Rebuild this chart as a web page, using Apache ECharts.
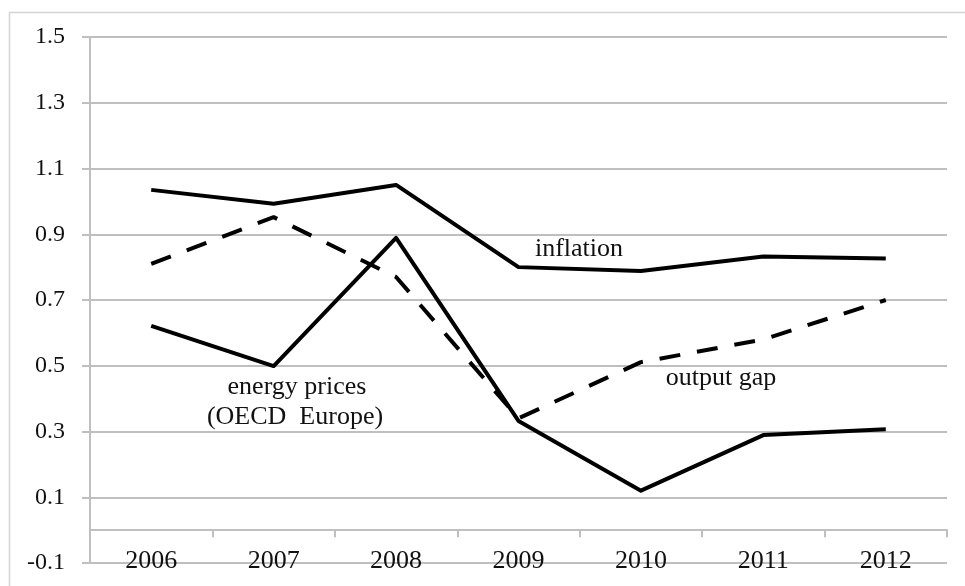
<!DOCTYPE html>
<html>
<head>
<meta charset="utf-8">
<script src="https://cdn.jsdelivr.net/npm/echarts@6/dist/echarts.min.js"></script>
<style>
html,body{margin:0;padding:0;background:#fff;}
#c{width:965px;height:586px;}
</style>
</head>
<body>
<div id="c"></div>
<script>
var years = ['2006','2007','2008','2009','2010','2011','2012'];
var inflation = [1.035, 0.993, 1.050, 0.800, 0.788, 0.832, 0.826];
var outputGap = [0.810, 0.952, 0.770, 0.340, 0.511, 0.580, 0.700];
var energyPrices = [0.621, 0.499, 0.889, 0.332, 0.120, 0.289, 0.307];
var yTicks = {min: -0.1, max: 1.5, interval: 0.2};

var chart = echarts.init(document.getElementById('c'), null, {renderer: 'canvas'});
var serif = '"Liberation Serif", "Times New Roman", serif';
var gridColor = '#bfbfbf';

chart.setOption({
  animation: false,
  backgroundColor: '#ffffff',
  grid: {left: 90, right: 18, top: 37, bottom: 23, containLabel: false, outerBoundsMode: 'none'},
  xAxis: {
    type: 'category',
    data: years,
    boundaryGap: true,
    axisLine: {show: true, onZero: true, lineStyle: {color: gridColor, width: 2}},
    axisTick: {show: true, length: 7, alignWithLabel: false, lineStyle: {color: gridColor, width: 2}},
    axisLabel: {color: '#111', fontFamily: serif, fontSize: 26, lineHeight: 26, margin: -15},
    splitLine: {show: false}
  },
  yAxis: {
    type: 'value',
    min: yTicks.min,
    max: yTicks.max,
    interval: yTicks.interval,
    axisLine: {show: true, lineStyle: {color: gridColor, width: 2}},
    axisTick: {show: true, length: 8, lineStyle: {color: gridColor, width: 2}},
    axisLabel: {color: '#111', fontFamily: serif, fontSize: 24, margin: 25,
      formatter: function (v) { return (Math.round(v * 10) / 10).toFixed(1); }},
    splitLine: {show: true, lineStyle: {color: gridColor, width: 2}}
  },
  series: [
    {name: 'inflation', type: 'line', data: inflation, symbol: 'none',
      lineStyle: {color: '#000', width: 4, join: 'round'}},
    {name: 'output gap', type: 'line', data: outputGap, symbol: 'none',
      lineStyle: {color: '#000', width: 4, type: [21, 17], cap: 'butt'}},
    {name: 'energy prices', type: 'line', data: energyPrices, symbol: 'none',
      lineStyle: {color: '#000', width: 4, join: 'round'}}
  ],
  graphic: [
    {type: 'rect', left: 7, top: 10, z: -10, silent: true,
      shape: {x: 0, y: 0, width: 1000, height: 1000},
      style: {fill: 'none', stroke: '#d4d4d4', lineWidth: 1.5}},
    {type: 'text', x: 579, y: 249, style: {text: 'inflation', font: '26px ' + serif, fill: '#111', align: 'center', verticalAlign: 'middle'}},
    {type: 'text', x: 721, y: 378, style: {text: 'output gap', font: '26px ' + serif, fill: '#111', align: 'center', verticalAlign: 'middle'}},
    {type: 'text', x: 297, y: 387, style: {text: 'energy prices', font: '26px ' + serif, fill: '#111', align: 'center', verticalAlign: 'middle'}},
    {type: 'text', x: 295, y: 417, style: {text: '(OECD  Europe)', font: '26px ' + serif, fill: '#111', align: 'center', verticalAlign: 'middle'}}
  ]
});
</script>
</body>
</html>
